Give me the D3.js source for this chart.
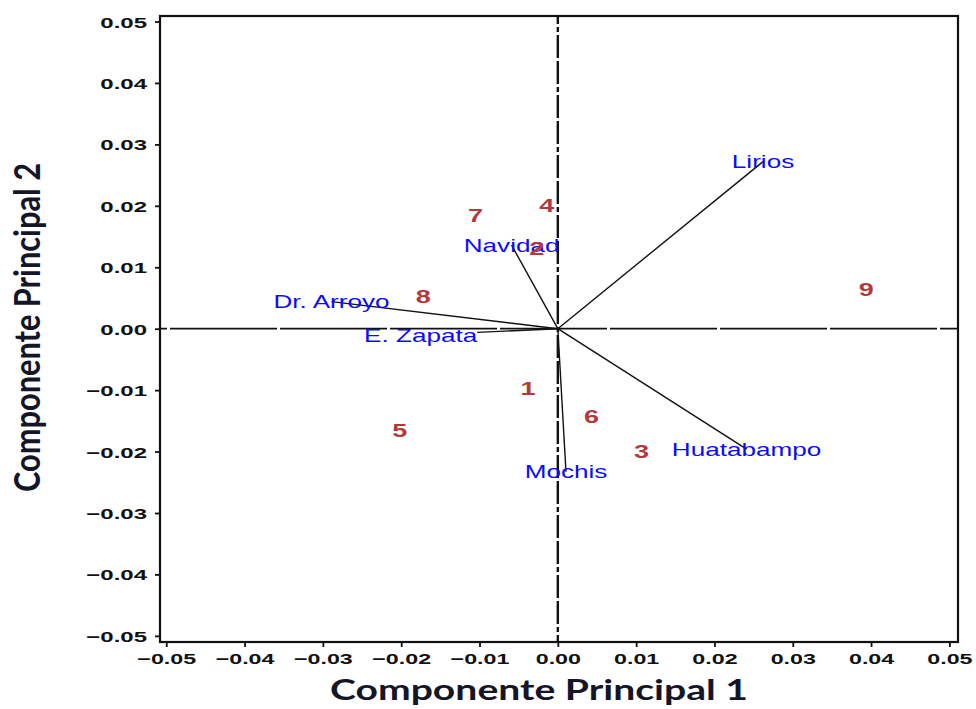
<!DOCTYPE html>
<html lang="es">
<head>
<meta charset="utf-8">
<title>Biplot componentes principales</title>
<script src="https://d3js.org/d3.v7.min.js"></script>
<style>
  body { margin: 0; background: #fff; }
  svg { display: block; }
</style>
</head>
<body>
<div id="chart"></div>
<script>
// axis ticks
var xTicks = [-0.05, -0.04, -0.03, -0.02, -0.01, 0, 0.01, 0.02, 0.03, 0.04, 0.05];
var yTicks = [-0.05, -0.04, -0.03, -0.02, -0.01, 0, 0.01, 0.02, 0.03, 0.04, 0.05];

// variables (loading vectors)
var varNames = ["Lirios", "Huatabampo", "Mochis", "Navidad", "Dr. Arroyo", "E. Zapata"];
var varPC1   = [0.0262, 0.0241, 0.00104, -0.0059, -0.0289, -0.0103];
var varPC2   = [0.0272, -0.0196, -0.0233, 0.0136, 0.0044, -0.0006];

// observations
var obsNames = ["1", "2", "3", "4", "5", "6", "7", "8", "9"];
var obsPC1   = [-0.0038, -0.0027, 0.0107, -0.0014, -0.0202, 0.0043, -0.0105, -0.0172, 0.0394];
var obsPC2   = [-0.0097, 0.0131, -0.0200, 0.0201, -0.0165, -0.0143, 0.0185, 0.0052, 0.0064];

var W = 976, H = 709;

var svg = d3.select("#chart").append("svg")
    .attr("width", W)
    .attr("height", H);

// scales -- domain slightly wider than the ticks, like the frame in the picture
var x = d3.scaleLinear().domain([-0.0508, 0.0511]).range([160, 958]);
var y = d3.scaleLinear().domain([-0.0510, 0.0509]).range([642, 16]);

// the picture is stretched sideways, so text gets a horizontal scale
function stretch(sel, px, py, sx) {
  sel.attr("transform", "translate(" + px + "," + py + ") scale(" + sx + ",1)");
}

var fmt = d3.format(".2f");

// X axis
var gx = svg.append("g")
    .attr("transform", "translate(0," + y.range()[0] + ")")
    .call(d3.axisBottom(x).tickValues(xTicks).tickSize(5).tickSizeOuter(0).tickFormat(fmt));
gx.select(".domain").remove();
gx.selectAll(".tick line").attr("stroke", "#111").attr("stroke-width", 1.8);
gx.selectAll(".tick text")
    .attr("y", 0).attr("dy", 0)
    .attr("font-family", "Liberation Sans, Arial, sans-serif")
    .attr("font-size", 15).attr("font-weight", "bold").attr("fill", "#111")
    .attr("transform", "translate(0,21.5) scale(1.55,1)");

// Y axis
var gy = svg.append("g")
    .attr("transform", "translate(" + x.range()[0] + ",0)")
    .call(d3.axisLeft(y).tickValues(yTicks).tickSize(5).tickSizeOuter(0).tickFormat(fmt));
gy.select(".domain").remove();
gy.selectAll(".tick line").attr("stroke", "#111").attr("stroke-width", 1.8);
gy.selectAll(".tick text")
    .attr("x", 0).attr("dy", 0)
    .attr("font-family", "Liberation Sans, Arial, sans-serif")
    .attr("font-size", 15).attr("font-weight", "bold").attr("fill", "#111")
    .attr("transform", "translate(-13,5.5) scale(1.6,1)");

// frame
svg.append("rect")
    .attr("x", x.range()[0]).attr("y", y.range()[1])
    .attr("width", x.range()[1] - x.range()[0])
    .attr("height", y.range()[0] - y.range()[1])
    .attr("fill", "none").attr("stroke", "#111").attr("stroke-width", 2.2);

// zero reference lines
svg.append("line")
    .attr("x1", x.range()[0]).attr("x2", x.range()[1])
    .attr("y1", y(0)).attr("y2", y(0))
    .attr("stroke", "#111").attr("stroke-width", 1.8)
    .attr("stroke-dasharray", "107,3").attr("stroke-dashoffset", 100);
svg.append("line")
    .attr("x1", x(0)).attr("x2", x(0))
    .attr("y1", y.range()[1]).attr("y2", y.range()[0])
    .attr("stroke", "#111").attr("stroke-width", 2.4)
    .attr("stroke-dasharray", "5,3,23,3,23,3").attr("stroke-dashoffset", 49);

// loading vectors
var vars = varNames.map(function(n, i) { return {name: n, pc1: varPC1[i], pc2: varPC2[i]}; });

svg.selectAll(".vec")
  .data(vars)
  .enter()
  .append("line")
    .attr("class", "vec")
    .attr("x1", x(0)).attr("y1", y(0))
    .attr("x2", function(d) { return x(d.pc1); })
    .attr("y2", function(d) { return y(d.pc2); })
    .attr("stroke", "#111")
    .attr("stroke-width", 1.4);

svg.selectAll(".vlab")
  .data(vars)
  .enter()
  .append("text")
    .attr("class", "vlab")
    .attr("font-family", "Liberation Sans, Arial, sans-serif")
    .attr("font-size", 18)
    .attr("fill", "#0a0aff")
    .attr("text-anchor", function(d) { return d.name === "E. Zapata" ? "end" : "middle"; })
    .text(function(d) { return d.name; })
    .each(function(d) {
      var dy = d.name === "E. Zapata" ? 9.5 : 6.5;
      stretch(d3.select(this), x(d.pc1), y(d.pc2) + dy, 1.45);
    });

// observation labels
var obs = obsNames.map(function(n, i) { return {name: n, pc1: obsPC1[i], pc2: obsPC2[i]}; });

svg.selectAll(".olab")
  .data(obs)
  .enter()
  .append("text")
    .attr("class", "olab")
    .attr("font-family", "Liberation Sans, Arial, sans-serif")
    .attr("font-size", 18)
    .attr("font-weight", "bold")
    .attr("fill", "#b23a3a")
    .attr("text-anchor", "middle")
    .text(function(d) { return d.name; })
    .each(function(d) {
      stretch(d3.select(this), x(d.pc1), y(d.pc2) + 6.5, 1.5);
    });

// axis titles
svg.append("text")
    .attr("x", 539).attr("y", 700)
    .attr("text-anchor", "middle")
    .attr("font-family", "Lato, Open Sans, sans-serif")
    .attr("font-size", 28).attr("font-weight", "bold")
    .attr("fill", "#15152a")
    .attr("textLength", 418).attr("lengthAdjust", "spacingAndGlyphs")
    .text("Componente Principal 1");

svg.append("text")
    .attr("transform", "translate(40,327.5) scale(1.27,1) rotate(-90)")
    .attr("text-anchor", "middle")
    .attr("font-family", "Lato, Open Sans, sans-serif")
    .attr("font-size", 28).attr("font-weight", "bold")
    .attr("fill", "#15152a")
    .attr("textLength", 329).attr("lengthAdjust", "spacingAndGlyphs")
    .text("Componente Principal 2");
</script>
</body>
</html>
